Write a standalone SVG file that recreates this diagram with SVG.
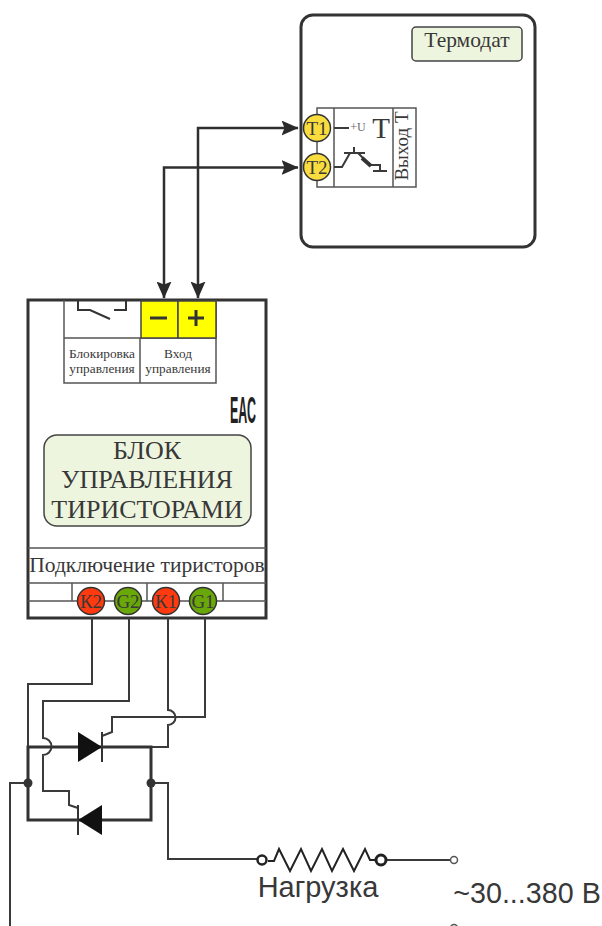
<svg xmlns="http://www.w3.org/2000/svg" width="602" height="926" viewBox="0 0 602 926">
<style>
text{fill:#383838;text-anchor:middle;font-family:"Liberation Serif",serif}
.s{font-family:"Liberation Sans",sans-serif}
.box{fill:none;stroke:#333;stroke-width:3}
.thin{fill:none;stroke:#555;stroke-width:1.5}
.w{fill:none;stroke:#3a3a3a;stroke-width:2}
.yc{fill:#f9dc3e;stroke:#333;stroke-width:1.5}
.rc{fill:#ff3a10;stroke:#333;stroke-width:1.5}
.gc{fill:#6aa80a;stroke:#333;stroke-width:1.5}
.lbl{fill:#eef5df;stroke:#444;stroke-width:1.5}
</style>
<defs>
<marker id="a" markerUnits="userSpaceOnUse" viewBox="0 0 17 15" refX="16.500" refY="7.500" markerWidth="17" markerHeight="15" orient="auto-start-reverse"><path d="M0 0L17 7.500L0 15L3 7.500Z" fill="#2a2a2a"/></marker>
</defs>
<g id="termodat">
<rect x="301" y="15" width="234" height="232" rx="12" class="box"/>
<rect x="412" y="27" width="110" height="34" rx="4" class="lbl"/>
<text x="467" y="47" font-size="21.500">Термодат</text>
</g>
<g id="output-t">
<rect x="317" y="108" width="99" height="79" class="thin"/>
<path d="M334 108V187M393 108V187" class="thin"/>
<path d="M334 128H349" class="w"/>
<text x="358" y="131" font-size="12" style="fill:#666">+U</text>
<text x="381" y="138" font-size="29">Т</text>
<path d="M334 167H342L350 153H358L370 165H380V171M354 147V152M344 153H365M373 171H387" class="w"/>
<path d="M362 158L371 166" stroke="#333" stroke-width="4"/>
<text transform="translate(408 146) rotate(-90)" font-size="19">Выход Т</text>
</g>
<g id="t1"><circle cx="317" cy="128" r="13.500" class="yc"/><text x="317" y="134.500" font-size="19">Т1</text></g>
<g id="t2"><circle cx="317" cy="167" r="13.500" class="yc"/><text x="317" y="173.500" font-size="19">Т2</text></g>
<g id="block">
<rect x="28" y="300" width="238" height="318" fill="#fff" stroke="#333" stroke-width="3"/>
<path d="M28 548H266M28 583H266M28 601H266M72 583V601M147 583V601M223 583V601" class="thin"/>
<text x="147" y="572" font-size="21.500">Подключение тиристоров</text>
<rect x="44" y="435" width="207" height="91" rx="13" class="lbl"/>
<text font-size="26"><tspan x="147" y="459">БЛОК</tspan><tspan x="147" y="488">УПРАВЛЕНИЯ</tspan><tspan x="147" y="518">ТИРИСТОРАМИ</tspan></text>
<text class="s" x="243" y="423" font-size="36" font-weight="bold" textLength="26" lengthAdjust="spacingAndGlyphs" style="fill:#222">ЕАС</text>
</g>
<g id="control-panel">
<path d="M64 300V383H216V300M64 338H216M140 338V383" class="thin"/>
<path d="M78 301V310H90L110 319M114 310H126V301" fill="none" stroke="#333" stroke-width="2"/>
<rect x="141" y="301" width="37" height="37" fill="#ffff00" stroke="#444" stroke-width="1.500"/>
<rect x="178" y="301" width="38" height="37" fill="#ffff00" stroke="#444" stroke-width="1.500"/>
<path d="M150 318H167M188 318H204M196 310V326" stroke="#333" stroke-width="3" fill="none"/>
<text font-size="13.300"><tspan x="102" y="358">Блокировка</tspan><tspan x="102" y="373">управления</tspan><tspan x="178" y="358">Вход</tspan><tspan x="178" y="373">управления</tspan></text>
</g>
<g id="k2"><circle cx="91" cy="601" r="13.500" class="rc"/><text x="91" y="607.500" font-size="19">К2</text></g>
<g id="g2"><circle cx="128" cy="601" r="13.500" class="gc"/><text x="128" y="607.500" font-size="19">G2</text></g>
<g id="k1"><circle cx="166" cy="601" r="13.500" class="rc"/><text x="166" y="607.500" font-size="19">К1</text></g>
<g id="g1"><circle cx="203" cy="601" r="13.500" class="gc"/><text x="203" y="607.500" font-size="19">G1</text></g>
<g id="connectors">
<path d="M198 298V128H298" fill="none" stroke="#2f2f2f" stroke-width="2.500" marker-start="url(#a)" marker-end="url(#a)"/>
<path d="M164 298V167.500H298" fill="none" stroke="#2f2f2f" stroke-width="2.500" marker-start="url(#a)" marker-end="url(#a)"/>
<path d="M92 618V684H28V747" class="w"/>
<path d="M129 618V701H43V738A8.500 8.500 0 0 1 43 755V791H69V805L78 808" class="w"/>
<path d="M168 618V710A7.500 7.500 0 0 1 168 725V747H151" class="w"/>
<path d="M205 618V717H112V732L102 736" class="w"/>
<path d="M28 783H10V926M151 783H168V859H257" class="w"/>
<path d="M387 860H450" class="w"/>
</g>
<g id="thyristors">
<rect x="28" y="747" width="123" height="73" fill="none" stroke="#333" stroke-width="3"/>
<circle cx="28" cy="783" r="4.500" fill="#333"/><circle cx="151" cy="783" r="4.500" fill="#333"/>
<path d="M78 732L102 747L78 762Z" fill="#111"/><path d="M102 732V762" stroke="#333" stroke-width="2"/>
<path d="M102 805L78 820L102 835Z" fill="#111"/><path d="M78 805V835" stroke="#333" stroke-width="2"/>
</g>
<g id="load">
<circle cx="262" cy="860" r="4.500" fill="#fff" stroke="#222" stroke-width="2.500"/>
<path d="M268 861H274L279 849L290 871L301 849L311 871L322 849L332 871L343 849L354 871L365 849L370 860H375" fill="none" stroke="#222" stroke-width="2"/>
<circle cx="381" cy="860" r="5" fill="#fff" stroke="#222" stroke-width="3"/>
<text class="s" x="318" y="897" font-size="29">Нагрузка</text>
</g>
<g id="terminals">
<circle cx="454" cy="860" r="3.500" fill="#fff" stroke="#555" stroke-width="1.500"/>
<circle cx="454" cy="928" r="3.500" fill="#fff" stroke="#555" stroke-width="1.500"/>
<text class="s" x="527" y="903" font-size="28.700">~30...380 В</text>
</g>
</svg>
